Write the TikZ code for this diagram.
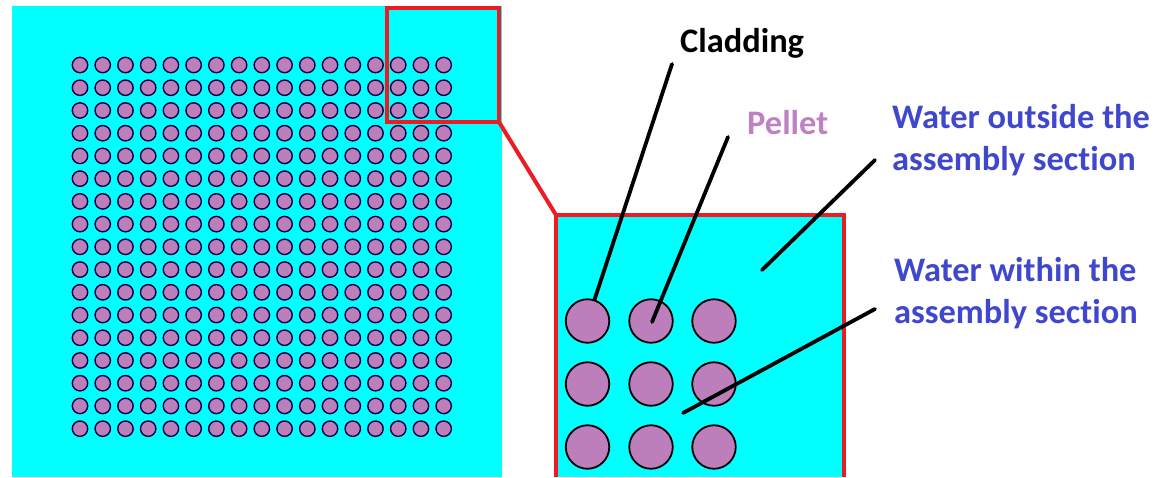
\documentclass[tikz,border=0pt]{standalone}
\usepackage{fontspec}
\setmainfont[Ligatures=NoCommon]{Carlito}
\definecolor{water}{HTML}{00FFFF}
\definecolor{framered}{HTML}{ED1C24}
\definecolor{pelletc}{HTML}{BC7FBC}
\definecolor{labelblue}{HTML}{3F48CC}
\definecolor{pellettext}{HTML}{C080C4}
\tikzset{
  x=1pt,y=-1pt,
  waterbox/.style={fill=water,draw=none},
  frameline/.style={draw=framered,line width=4pt,line join=miter},
  smallpin/.style={circle,draw=black!75!blue,fill=pelletc,line width=1.4pt,minimum size=15.4pt,inner sep=0pt},
  bigpin/.style={circle,draw=black,fill=pelletc,line width=1.8pt,minimum size=43.5pt,inner sep=0pt},
  leader/.style={draw=black,line width=3.8pt,line cap=round},
  lbl/.style={font=\bfseries\fontsize{34.4}{42}\selectfont,anchor=base west,inner sep=0pt,align=left},
}
\begin{document}
\begin{tikzpicture}
\useasboundingbox (0,0) rectangle (1156,477);
\fill[white] (0,0) rectangle (1156,477);
\fill[waterbox] (12,6) rectangle (501.5,477);
\foreach \i in {0,...,16}{
  \foreach \j in {0,...,16}{
    \node[smallpin] (p\i-\j) at ({80+22.73*\i},{65+22.73*\j}) {};
  }
}
\draw[frameline] (387,8) rectangle (499,122);
\fill[waterbox] (556,215) rectangle (844,477);
\foreach \r/\y in {1/321,2/384,3/447}{
  \foreach \c/\x in {1/587.5,2/651,3/714}{
    \node[bigpin] (b\r\c) at (\x,\y) {};
  }
}
\coordinate (zoomA) at (499,122);
\coordinate (zoomB) at (556,215);
\coordinate (zoomBL) at (556,477);
\coordinate (zoomBR) at (844,477);
\coordinate (zoomTR) at (844,215);
\draw[frameline] (zoomA) -- (zoomB);
\draw[frameline] (zoomBL) -- (zoomB) -- (zoomTR) -- (zoomBR);
\node[lbl,text=black] (cladding) at (680,52) {Cladding};
\node[lbl,text=pellettext] (pellet) at (747,134) {Pellet};
\node[lbl,text=labelblue] (outside) at (892,170.5) {Water outside the\\assembly section};
\node[lbl,text=labelblue] (within) at (894,323.5) {Water within the\\assembly section};
\coordinate (cladT) at (672,64);
\coordinate (pelT) at (728,137);
\coordinate (pelB) at (652,322);
\coordinate (outT) at (875,160);
\coordinate (outB) at (762,270);
\coordinate (witT) at (875,309);
\coordinate (witB) at (683,413);
\draw[leader] (cladT) -- (b11);
\draw[leader] (pelT) -- (pelB);
\draw[leader] (outT) -- (outB);
\draw[leader] (witT) -- (witB);
\end{tikzpicture}
\end{document}
